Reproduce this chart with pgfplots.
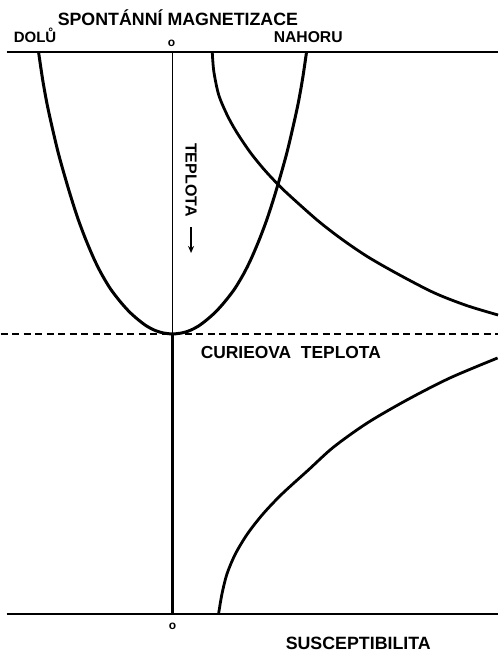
\documentclass[border=0pt]{standalone}
\usepackage{fontspec}
\setmainfont{Liberation Sans}
\usepackage{pgfplots}
\pgfplotsset{compat=1.18}
\usetikzlibrary{arrows.meta}
\begin{document}
\begin{tikzpicture}
\begin{axis}[
  scale only axis, width=497pt, height=652pt,
  xmin=0, xmax=497, ymin=0, ymax=652, y dir=reverse,
  hide axis, clip=false,
]
% frame for bounding box
\addplot[draw=none] coordinates {(0,0) (497,652)};
% top and bottom lines
\addplot[black, line width=1.5pt] coordinates {(6,52) (497,52)};
\addplot[black, line width=1.5pt] coordinates {(6,614) (497,614)};
% dashed Curie line
\addplot[black, line width=1.1pt, dash pattern=on 7pt off 4.5pt] coordinates {(0,334) (497,334)};
% vertical axis
\addplot[black, line width=0.9pt] coordinates {(172,52) (172,334)};
\addplot[black, line width=2.5pt] coordinates {(172,334) (172,614)};
% spontaneous magnetization
\addplot[black, line width=3pt, smooth, tension=0.5] coordinates {
 (38,52) (42,79) (46.5,104) (52,129) (58,154) (65,179) (71,199) (77.5,219) (85,239)
 (93.5,259) (101,274) (110,289) (120,302) (129,312) (138,320) (146,326) (153.5,330)
 (159,332) (163,333) (172,334)
 (181,333) (185,332) (190.5,330) (198,326) (206,320) (215,312) (224,302) (234,289)
 (243,274) (250.5,259) (259,239) (266.5,219) (273,199) (279,179) (286,154) (292,129)
 (297.5,104) (302,79) (306,52)};
% susceptibility below Tc
\addplot[black, line width=2.8pt, smooth, tension=0.5] coordinates {
 (211.7,52) (213.3,71.7) (218.2,95) (226.6,115) (235.8,131.7) (249.2,151.7) (262.5,168.3)
 (274.8,181.7) (286.6,193.3) (316.5,220) (341,239) (367.5,257) (400,275.5) (434,293) (466,305.5) (497.5,315)};
% susceptibility above Tc
\addplot[black, line width=2.8pt, smooth, tension=0.5] coordinates {
 (218,614) (221.4,594) (226.4,574) (234.8,554) (246.8,534) (262.4,514) (281.4,494)
 (307.8,470) (333.1,447) (366.7,423) (406.3,400) (449.3,378) (497,358)};
% arrow next to TEPLOTA
\addplot[black, line width=1.8pt, -{Stealth[length=7pt,width=6pt]}] coordinates {(190.5,227) (190.5,253)};
% texts
\node[anchor=base west, inner sep=0pt, font=\bfseries\fontsize{17.8}{20}\selectfont] at (axis cs:57,26) {SPONTÁNNÍ MAGNETIZACE};
\node[anchor=base west, inner sep=0pt, font=\bfseries\fontsize{15}{18}\selectfont] at (axis cs:13,43) {DOLŮ};
\node[anchor=base west, inner sep=0pt, font=\bfseries\fontsize{15.7}{18}\selectfont] at (axis cs:273,43) {NAHORU};
\node[anchor=center, inner sep=0pt, font=\bfseries\fontsize{12}{14}\selectfont] at (axis cs:171,43.5) {o};
\node[anchor=center, inner sep=0pt, font=\bfseries\fontsize{12}{14}\selectfont] at (axis cs:172,626) {o};
\node[anchor=base west, inner sep=0pt, font=\bfseries\fontsize{17.4}{20}\selectfont] at (axis cs:200,358) {CURIEOVA\ \ TEPLOTA};
\node[anchor=base west, inner sep=0pt, font=\bfseries\fontsize{17.8}{20}\selectfont] at (axis cs:285,649) {SUSCEPTIBILITA};
\node[anchor=base west, inner sep=0pt, rotate=-90, font=\bfseries\fontsize{16}{20}\selectfont] at (axis cs:185,143) {TEPLOTA};
\end{axis}
\end{tikzpicture}
\end{document}
